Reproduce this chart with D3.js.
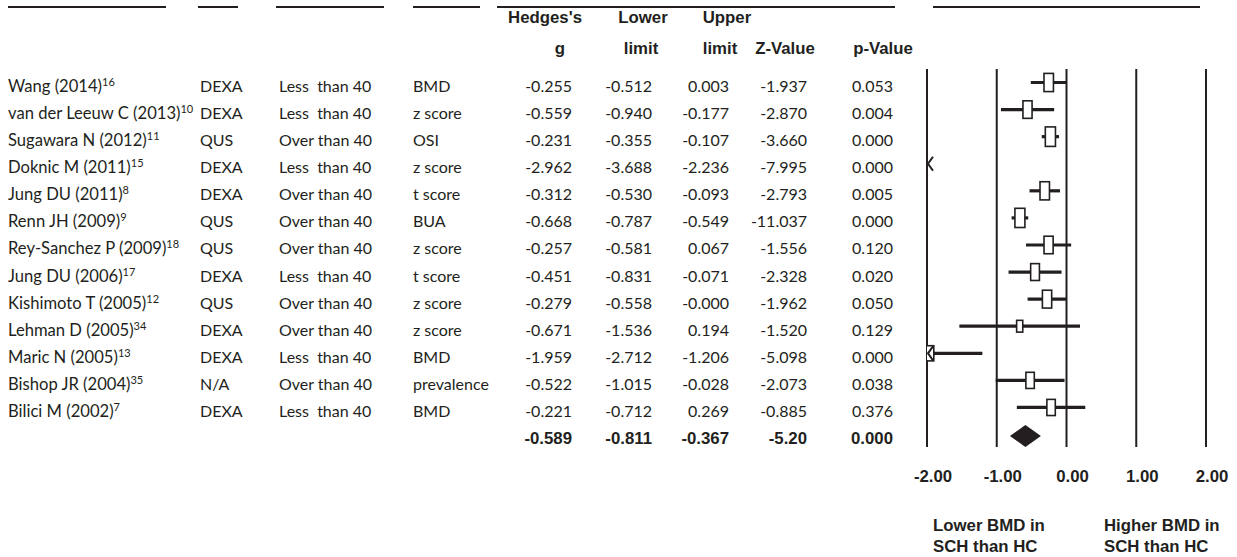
<!DOCTYPE html>
<html>
<head>
<meta charset="utf-8">
<script src="https://cdn.jsdelivr.net/npm/d3@7"></script>
<style>
  body { margin: 0; background: #fff; }
  svg { display: block; }
  .cell { font-family: Lato, "Open Sans", sans-serif; font-size: 16px; fill: #231f20; white-space: pre; }
  .name { font-size: 16.6px; }
  .bold { font-family: "Liberation Sans", Arial, sans-serif; font-weight: bold; font-size: 16.8px; fill: #231f20; }
</style>
</head>
<body>
<svg id="chart"></svg>
<script>
// study rows, top to bottom
const studies = ['Wang (2014)', 'van der Leeuw C (2013)', 'Sugawara N (2012)', 'Doknic M (2011)',
  'Jung DU (2011)', 'Renn JH (2009)', 'Rey-Sanchez P (2009)', 'Jung DU (2006)', 'Kishimoto T (2005)',
  'Lehman D (2005)', 'Maric N (2005)', 'Bishop JR (2004)', 'Bilici M (2002)'];
const refs = ['16', '10', '11', '15', '8', '9', '18', '17', '12', '34', '13', '35', '7'];
const methods = ['DEXA', 'DEXA', 'QUS', 'DEXA', 'DEXA', 'QUS', 'QUS', 'DEXA', 'QUS', 'DEXA', 'DEXA', 'N/A', 'DEXA'];
const ages = ['Less  than 40', 'Less  than 40', 'Over than 40', 'Less  than 40', 'Over than 40', 'Over than 40',
  'Over than 40', 'Less  than 40', 'Over than 40', 'Over than 40', 'Less  than 40', 'Over than 40', 'Less  than 40'];
const measures = ['BMD', 'z score', 'OSI', 'z score', 't score', 'BUA', 'z score', 't score', 'z score',
  'z score', 'BMD', 'prevalence', 'BMD'];

const hedgesG = [-0.255, -0.559, -0.231, -2.962, -0.312, -0.668, -0.257, -0.451, -0.279, -0.671, -1.959, -0.522, -0.221];
const lowerLimit = [-0.512, -0.940, -0.355, -3.688, -0.530, -0.787, -0.581, -0.831, -0.558, -1.536, -2.712, -1.015, -0.712];
const upperLimit = [0.003, -0.177, -0.107, -2.236, -0.093, -0.549, 0.067, -0.071, -0.0004, 0.194, -1.206, -0.028, 0.269];
const zValues = [-1.937, -2.870, -3.660, -7.995, -2.793, -11.037, -1.556, -2.328, -1.962, -1.520, -5.098, -2.073, -0.885];
const pValues = [0.053, 0.004, 0.000, 0.000, 0.005, 0.000, 0.120, 0.020, 0.050, 0.129, 0.000, 0.038, 0.376];
// relative weights
const weights = [8.6, 8.0, 9.9, 4.3, 8.6, 9.6, 8.0, 7.4, 8.3, 3.6, 6.0, 6.8, 6.8];

// pooled estimate: g, lower, upper, z, p
const summaryValues = [-0.589, -0.811, -0.367, -5.20, 0.000];
const summaryDecimals = [3, 3, 3, 2, 3];

const axisTicks = [-2, -1, 0, 1, 2];
const favoursLeft = ['Lower BMD in', 'SCH than HC'];
const favoursRight = ['Higher BMD in', 'SCH than HC'];

const width = 1237, height = 557;
const fmt = d3.formatLocale({ decimal: '.', thousands: ',', grouping: [3], currency: ['', ''], minus: '-' });
const fixed = n => v => (v < 0 && v > -0.0005) ? '-' + Math.abs(v).toFixed(n) : fmt.format('.' + n + 'f')(v);

const svg = d3.select('#chart').attr('width', width).attr('height', height);

// row baselines
const rowY = d3.scaleLinear().domain([0, 1]).range([92, 119.08]);
const x = d3.scaleLinear().domain([-2, 2]).range([927, 1206]);
const boxH = d3.scaleSqrt().domain([0, 9.9]).range([0, 19.5]);

// header rules
const rules = [[8, 166], [198, 238], [276, 384], [413, 480], [497, 895], [933, 1200]];
svg.selectAll('.rule').data(rules).join('line')
  .attr('x1', d => d[0]).attr('x2', d => d[1])
  .attr('y1', 7).attr('y2', 7)
  .attr('stroke', '#231f20').attr('stroke-width', 2);

// column headers
const header1 = [['Hedges\'s', 545], ['Lower', 643], ['Upper', 727]];
const header2 = [['g', 560], ['limit', 641], ['limit', 720], ['Z-Value', 785], ['p-Value', 883]];
svg.selectAll('.h1').data(header1).join('text')
  .attr('class', 'bold').attr('x', d => d[1]).attr('y', 23)
  .attr('text-anchor', 'middle').text(d => d[0]);
svg.selectAll('.h2').data(header2).join('text')
  .attr('class', 'bold').attr('x', d => d[1]).attr('y', 54)
  .attr('text-anchor', 'middle').text(d => d[0]);

// left text columns
const rows = svg.append('g');
const nameText = rows.selectAll('.name').data(studies).join('text')
  .attr('class', 'cell name').attr('x', 8).attr('y', (d, i) => rowY(i));
nameText.append('tspan').text(d => d);
nameText.append('tspan').attr('dy', -6).style('font-size', '11px').text((d, i) => refs[i]);

const textCols = [[methods, 200], [ages, 279], [measures, 413]];
textCols.forEach(([vals, cx]) => {
  rows.selectAll(null).data(vals).join('text')
    .attr('class', 'cell').attr('x', cx).attr('y', (d, i) => rowY(i))
    .attr('xml:space', 'preserve').text(d => d);
});

const numCols = [[hedgesG, 572], [lowerLimit, 652], [upperLimit, 729], [zValues, 807], [pValues, 893]];
numCols.forEach(([vals, rx]) => {
  rows.selectAll(null).data(vals).join('text')
    .attr('class', 'cell').attr('x', rx).attr('y', (d, i) => rowY(i))
    .attr('text-anchor', 'end').text(fixed(3));
});

// summary row
const sumY = rowY(studies.length);
svg.selectAll('.sum').data(summaryValues).join('text')
  .attr('class', 'bold').attr('x', (d, i) => numCols[i][1]).attr('y', sumY)
  .attr('text-anchor', 'end').text((d, i) => fixed(summaryDecimals[i])(d));

// forest plot
const plot = svg.append('g');
plot.append('clipPath').attr('id', 'clip').append('rect')
  .attr('x', x(-2)).attr('y', 60).attr('width', x(2) - x(-2)).attr('height', 400);

plot.selectAll('.grid').data(axisTicks).join('line')
  .attr('x1', d => x(d)).attr('x2', d => x(d))
  .attr('y1', 69).attr('y2', 447)
  .attr('stroke', '#231f20').attr('stroke-width', 2);

const marks = plot.append('g').attr('clip-path', 'url(#clip)');
const my = i => rowY(i) - 9.5;
const idx = d3.range(studies.length);

marks.selectAll('.ci').data(idx.filter(i => upperLimit[i] > -2)).join('line')
  .attr('x1', i => x(Math.max(lowerLimit[i], -2))).attr('x2', i => x(Math.min(upperLimit[i], 2)))
  .attr('y1', my).attr('y2', my)
  .attr('stroke', '#231f20').attr('stroke-width', 3.2);

marks.selectAll('.box').data(idx.filter(i => hedgesG[i] > -2.2)).join('rect')
  .attr('x', i => x(hedgesG[i]) - boxH(weights[i]) * 0.26)
  .attr('y', i => my(i) - boxH(weights[i]) / 2)
  .attr('width', i => boxH(weights[i]) * 0.52)
  .attr('height', i => boxH(weights[i]))
  .attr('fill', '#fff').attr('stroke', '#231f20').attr('stroke-width', 1.6);

// arrows where the interval runs past the axis
plot.selectAll('.arrow').data(idx.filter(i => lowerLimit[i] < -2)).join('path')
  .attr('d', i => `M${x(-2) + 6},${my(i) - 7}L${x(-2) + 1},${my(i)}L${x(-2) + 6},${my(i) + 7}`)
  .attr('fill', 'none').attr('stroke', '#231f20').attr('stroke-width', 2);

// pooled diamond
const [sg, sl, su] = summaryValues;
const dy = sumY - 8;
plot.append('path')
  .attr('d', `M${x(sl)},${dy}L${x(sg)},${dy - 11}L${x(su)},${dy}L${x(sg)},${dy + 11}Z`)
  .attr('fill', '#231f20');

// tick labels
plot.selectAll('.tick').data(axisTicks).join('text')
  .attr('class', 'bold').attr('x', d => x(d) + 6).attr('y', 482)
  .attr('text-anchor', 'middle').text(fixed(2));

// favours labels
[[favoursLeft, 933], [favoursRight, 1104]].forEach(([lines, lx]) => {
  plot.selectAll(null).data(lines).join('text')
    .attr('class', 'bold').attr('x', lx).attr('y', (d, i) => 531 + i * 21)
    .text(d => d);
});
</script>
</body>
</html>
